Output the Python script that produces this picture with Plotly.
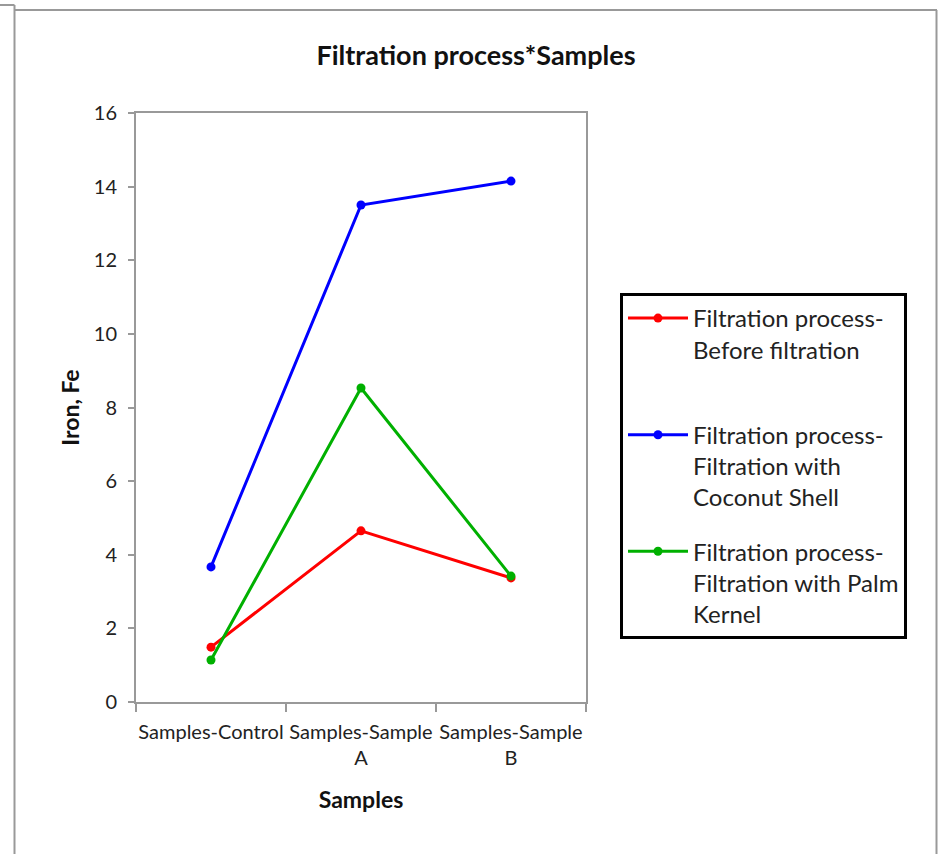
import plotly.graph_objects as go

categories = ["Samples-Control", "Samples-Sample<br>A", "Samples-Sample<br>B"]
before = [1.49, 4.65, 3.37]
coconut = [3.67, 13.5, 14.15]
palm = [1.14, 8.53, 3.42]
names = ["Filtration process-<br>Before filtration<br>&nbsp;",
         "Filtration process-<br>Filtration with<br>Coconut Shell",
         "Filtration process-<br>Filtration with Palm<br>Kernel"]
colors = ["#FF0000", "#0000FF", "#00B000"]
y_ticks = [0, 2, 4, 6, 8, 10, 12, 14, 16]

FONT = "Lato, 'Open Sans', sans-serif"

fig = go.Figure()
for i, (vals, nm, col) in enumerate(zip([before, coconut, palm], names, colors)):
    fig.add_trace(go.Scatter(
        x=categories, y=vals, mode="lines+markers", name=nm,
        line=dict(color=col, width=3), marker=dict(color=col, size=9),
        legendgroup=f"g{i}",
    ))

L, R, T, B = 136, 352, 113, 152
W, H = 938, 854
pw, ph = W - L - R, H - T - B

def px(x):
    return (x - L) / pw

def py(y):
    return (H - B - y) / ph

frame = dict(color="#999999", width=2)
shapes = [
    dict(type="line", xref="paper", yref="paper", x0=px(14.5), x1=px(14.5), y0=py(10), y1=py(880), line=frame),
    dict(type="line", xref="paper", yref="paper", x0=px(14.5), x1=px(937), y0=py(10), y1=py(10), line=frame),
    dict(type="line", xref="paper", yref="paper", x0=px(936.5), x1=px(936.5), y0=py(10), y1=py(880), line=frame),
    dict(type="line", xref="paper", yref="paper", x0=px(-2), x1=px(14.5), y0=py(5), y1=py(5), line=frame),
    dict(type="line", xref="paper", yref="paper", x0=px(14.5), x1=px(14.5), y0=py(5), y1=py(10), line=frame),
]

fig.update_layout(
    width=W, height=H,
    margin=dict(l=L, r=R, t=T, b=B, autoexpand=False),
    paper_bgcolor="white", plot_bgcolor="white",
    font=dict(family=FONT, color="#222222", size=20),
    title=dict(text="<b>Filtration process*Samples</b>", x=476 / W, xref="container", xanchor="center",
               y=1 - 56 / H, yref="container", yanchor="middle",
               font=dict(family=FONT, size=27, color="#111111")),
    showlegend=True,
    legend=dict(x=px(620), y=py(293), xanchor="left", yanchor="top",
                bordercolor="black", borderwidth=3, bgcolor="white",
                font=dict(family=FONT, size=24, color="#222222"),
                valign="top", tracegroupgap=20, traceorder="grouped",
                itemwidth=60),
    shapes=shapes,
    xaxis=dict(type="category", range=[-0.5, 2.5], showline=True, linecolor="#999999", linewidth=2, mirror=True,
               ticks="outside", ticklen=8, tickcolor="#999999", tickwidth=1.5, tickangle=0,
               tickson="boundaries", showgrid=False, zeroline=False, ticklabelstandoff=11, automargin=False,
               tickfont=dict(family=FONT, size=20, color="#222222"),
               title=dict(text="<b>Samples</b>", font=dict(family=FONT, size=23, color="#111111"), standoff=24)),
    yaxis=dict(range=[0, 16], tickvals=y_ticks, showline=True, linecolor="#999999", linewidth=2, mirror=True,
               ticks="outside", ticklen=6, tickcolor="#999999", tickwidth=1.5, automargin=False,
               showgrid=False, zeroline=False, ticklabelstandoff=7,
               tickfont=dict(family=FONT, size=20, color="#222222"),
               title=dict(text="<b>Iron, Fe</b>", font=dict(family=FONT, size=23, color="#111111"), standoff=8)),
)

fig.write_html("out.html")
